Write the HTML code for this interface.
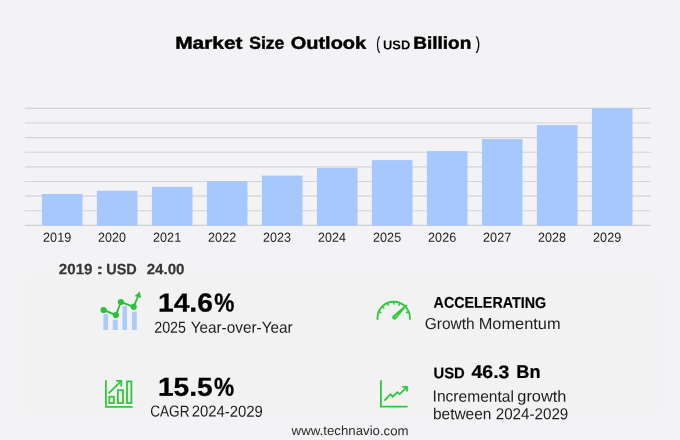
<!DOCTYPE html>
<html lang="en">
<head>
<meta charset="utf-8">
<title>Market Size Outlook</title>
<style>
html,body{margin:0;padding:0;}
body{width:680px;height:440px;overflow:hidden;background:#f3f3f6;position:relative;
  font-family:"Liberation Sans",sans-serif;color:#000;}
.t{position:absolute;white-space:nowrap;line-height:1;margin:0;padding:0;transform-origin:0 0;}
.b{font-weight:bold;}
.g-ti{top:34px;font-size:17.3px;color:#000;-webkit-text-stroke:0.45px #000}
.g-tp{top:35px;font-size:17.5px;color:#000;-webkit-text-stroke:0.2px #000}
.g-tu{top:39px;font-size:12.7px;color:#000;}
.g-yl{top:230px;font-size:13.2px;color:#222;}
.g-bv{top:261px;font-size:15px;color:#363636;-webkit-text-stroke:0.2px #363636}
.g-s1a{top:289px;font-size:26.0px;color:#000;-webkit-text-stroke:0.3px #000}
.g-s1b{top:319px;font-size:15.9px;color:#1e1e1e;}
.g-s2a{top:373px;font-size:26.0px;color:#000;-webkit-text-stroke:0.3px #000}
.g-s2b{top:403px;font-size:15.9px;color:#1e1e1e;}
.g-s3a{top:294px;font-size:15.5px;color:#000;-webkit-text-stroke:0.15px #000}
.g-s3b{top:316px;font-size:15.9px;color:#1e1e1e;}
.g-s4a{top:365px;font-size:15.4px;color:#000;-webkit-text-stroke:0.15px #000}
.g-s4b{top:363px;font-size:18.4px;color:#000;-webkit-text-stroke:0.2px #000}
.g-s4d{top:388px;font-size:15.9px;color:#1e1e1e;}
.g-s4e{top:406px;font-size:15.9px;color:#1e1e1e;}
.g-ft{top:424px;font-size:13px;color:#2a2a2a;}
.pc{display:inline-block;transform-origin:0 0;}
svg{position:absolute;overflow:visible;}
</style>
</head>
<body>
<svg id="panelsvg" style="left:0;top:0" width="680" height="440" viewBox="0 0 680 440"><rect x="26" y="275.8" width="633.5" height="136.4" fill="#f2f2f2"/></svg>

<!-- chart -->
<svg id="chart" style="left:0;top:0" width="680" height="240" viewBox="0 0 680 240">
  <g stroke="#d4d4d7" stroke-width="1.2">
    <line x1="24.8" y1="108.35" x2="650.9" y2="108.35"/>
    <line x1="24.8" y1="122.98" x2="650.9" y2="122.98"/>
    <line x1="24.8" y1="137.61" x2="650.9" y2="137.61"/>
    <line x1="24.8" y1="152.24" x2="650.9" y2="152.24"/>
    <line x1="24.8" y1="166.87" x2="650.9" y2="166.87"/>
    <line x1="24.8" y1="181.50" x2="650.9" y2="181.50"/>
    <line x1="24.8" y1="196.13" x2="650.9" y2="196.13"/>
    <line x1="24.8" y1="210.76" x2="650.9" y2="210.76"/>
    <line x1="24.8" y1="225.39" x2="650.9" y2="225.39" stroke="#d0d0d3"/>
  </g>
  <g fill="#a6c8ff">
    <rect x="41.9" y="194" width="40.6" height="31.7"/>
    <rect x="96.9" y="190.8" width="40.6" height="34.9"/>
    <rect x="151.9" y="186.9" width="40.6" height="38.8"/>
    <rect x="206.9" y="181.1" width="40.6" height="44.6"/>
    <rect x="261.9" y="175.6" width="40.6" height="50.1"/>
    <rect x="316.9" y="167.9" width="40.6" height="57.8"/>
    <rect x="371.9" y="160.1" width="40.6" height="65.6"/>
    <rect x="426.9" y="151.1" width="40.6" height="74.6"/>
    <rect x="481.9" y="139.1" width="40.6" height="86.6"/>
    <rect x="536.9" y="125.1" width="40.6" height="100.6"/>
    <rect x="591.9" y="108.2" width="40.6" height="117.5"/>
  </g>
</svg>

<!-- text -->
<span class="t b g-ti" style="left:175px;transform:matrix(1.2093,0.001,0,1,0.13,0.75)">Market</span>
<span class="t b g-ti" style="left:249px;transform:matrix(1.0166,0.001,0,1,0.23,0.75)">Size</span>
<span class="t b g-ti" style="left:290px;transform:matrix(1.1552,0.001,0,1,0.74,0.75)">Outlook</span>
<span class="t g-tp" style="left:376px;transform:matrix(0.6687,0.001,0,1,0.27,0.25)">(</span>
<span class="t b g-tu" style="left:382px;transform:matrix(1.0169,0.001,0,1,0.97,0.30)">USD</span>
<span class="t b g-ti" style="left:413px;transform:matrix(1.0992,0.001,0,1,0.28,0.75)">Billion</span>
<span class="t g-tp" style="left:475px;transform:matrix(0.7427,0.001,0,1,0.67,0.25)">)</span>
<span class="t g-yl" style="left:43px;transform:matrix(0.9562,0.001,0,1,0.11,0.83)">2019</span>
<span class="t g-yl" style="left:98px;transform:matrix(0.9523,0.001,0,1,0.11,0.83)">2020</span>
<span class="t g-yl" style="left:153px;transform:matrix(0.9554,0.001,0,1,0.11,0.83)">2021</span>
<span class="t g-yl" style="left:208px;transform:matrix(0.9559,0.001,0,1,0.11,0.83)">2022</span>
<span class="t g-yl" style="left:263px;transform:matrix(0.9551,0.001,0,1,0.11,0.83)">2023</span>
<span class="t g-yl" style="left:318px;transform:matrix(0.9462,0.001,0,1,0.12,0.83)">2024</span>
<span class="t g-yl" style="left:373px;transform:matrix(0.9554,0.001,0,1,0.11,0.83)">2025</span>
<span class="t g-yl" style="left:428px;transform:matrix(0.9563,0.001,0,1,0.11,0.83)">2026</span>
<span class="t g-yl" style="left:483px;transform:matrix(0.9559,0.001,0,1,0.11,0.83)">2027</span>
<span class="t g-yl" style="left:538px;transform:matrix(0.9546,0.001,0,1,0.11,0.83)">2028</span>
<span class="t g-yl" style="left:593px;transform:matrix(0.9562,0.001,0,1,0.11,0.83)">2029</span>
<span class="t b g-bv" style="left:58px;transform:matrix(1.0097,0.001,0,1,0.84,0.30)">2019</span>
<span class="t b g-bv" style="left:96px;transform:matrix(1.4141,0.001,0,1,0.13,0.30)">:</span>
<span class="t b g-bv" style="left:106px;transform:matrix(0.9671,0.001,0,1,0.16,0.30)">USD</span>
<span class="t b g-bv" style="left:146px;transform:matrix(1.0099,0.001,0,1,0.64,0.30)">24.00</span>
<span class="t b g-s1a" style="left:157px;transform:matrix(1.0855,0.001,0,1,0.96,0.45)">14.6<span class="pc" style="transform:translateX(0.83px) scaleX(0.8028)">%</span></span>
<span class="t g-s1b" style="left:154px;transform:matrix(0.8990,0.001,0,1,0.18,0.70)">2025</span>
<span class="t g-s1b" style="left:190px;transform:matrix(0.9645,0.001,0,1,0.65,0.70)">Year-over-Year</span>
<span class="t b g-s2a" style="left:157px;transform:matrix(1.0825,0.001,0,1,0.96,0.80)">15.5<span class="pc" style="transform:translateX(0.83px) scaleX(0.8050)">%</span></span>
<span class="t g-s2b" style="left:150px;transform:matrix(0.8567,0.001,0,1,0.18,0.60)">CAGR</span>
<span class="t g-s2b" style="left:191px;transform:matrix(0.9370,0.001,0,1,0.65,0.60)">2024-2029</span>
<span class="t b g-s3a" style="left:433px;transform:matrix(0.9234,0.001,0,1,0.57,0.80)">ACCELERATING</span>
<span class="t g-s3b" style="left:424px;transform:matrix(0.9751,0.001,0,1,0.69,0.00)">Growth</span>
<span class="t g-s3b" style="left:478px;transform:matrix(1.0309,0.001,0,1,0.65,0.00)">Momentum</span>
<span class="t b g-s4a" style="left:433px;transform:matrix(0.9636,0.001,0,1,0.45,0.35)">USD</span>
<span class="t b g-s4b" style="left:471px;transform:matrix(1.0609,0.001,0,1,0.50,0.10)">46.3</span>
<span class="t b g-s4b" style="left:516px;transform:matrix(0.9878,0.001,0,1,0.31,0.10)">Bn</span>
<span class="t g-s4d" style="left:432px;transform:matrix(0.9805,0.001,0,1,0.55,0.60)">Incremental</span>
<span class="t g-s4d" style="left:517px;transform:matrix(1.0317,0.001,0,1,0.27,0.60)">growth</span>
<span class="t g-s4e" style="left:432px;transform:matrix(0.9726,0.001,0,1,0.95,0.30)">between</span>
<span class="t g-s4e" style="left:495px;transform:matrix(0.9545,0.001,0,1,0.74,0.30)">2024-2029</span>
<span class="t g-ft" style="left:291px;transform:matrix(1.0193,0.001,0,1,0.56,0.04)">www.technavio.com</span>

<!-- icon 1: bars with trend line -->
<svg id="ic1" style="left:90px;top:285px" width="60" height="50" viewBox="0 0 60 50">
  <g fill="#adcbf8">
    <rect x="13.4" y="29" width="4.6" height="16"/>
    <rect x="22.8" y="34.6" width="5" height="10.4"/>
    <rect x="32.4" y="21" width="4.6" height="24"/>
    <rect x="42" y="26.6" width="4.8" height="18.4"/>
  </g>
  <polyline points="13.6,25 25.9,30.1 30.9,17 43.7,21.8 48.3,10.5" fill="none" stroke="#2fbf3f" stroke-width="1.9" stroke-linejoin="round"/>
  <g fill="#2fbf3f">
    <circle cx="13.6" cy="25" r="3.1"/>
    <circle cx="25.9" cy="30.1" r="3.1"/>
    <circle cx="30.9" cy="17" r="3.1"/>
    <circle cx="43.7" cy="21.8" r="3.1"/>
    <polygon points="49.7,6.6 44.7,10.9 51.2,13"/>
  </g>
</svg>

<!-- icon 2: bar chart with arrow -->
<svg id="ic2" style="left:90px;top:370px" width="60" height="50" viewBox="0 0 60 50" fill="none" stroke="#2dc93b" stroke-width="1.8">
  <polyline points="15.9,10.2 15.9,36.8 42.6,36.8"/>
  <rect x="19.3" y="26.8" width="4.6" height="6.2"/>
  <rect x="27.9" y="20.2" width="5.1" height="12.8"/>
  <rect x="37" y="11.4" width="4.4" height="21.6"/>
  <polyline points="18.6,23.4 31,11.1"/>
  <polyline points="26,10.9 31.3,10.9 31.3,16.6"/>
</svg>

<!-- icon 3: gauge -->
<svg id="ic3" style="left:365px;top:285px" width="60" height="50" viewBox="0 0 60 50" fill="none" stroke="#2dc93b">
  <path d="M12.50,34.7 L12.50,32.9 A16.2,16.2 0 0 1 44.90,32.9 L44.90,34.7" stroke-width="1.9"/>
  <g stroke-width="1.5">
    <line x1="13.73" y1="26.70" x2="16.41" y2="27.81"/>
    <line x1="17.24" y1="21.44" x2="19.30" y2="23.50"/>
    <line x1="22.50" y1="17.93" x2="23.61" y2="20.61"/>
    <line x1="28.70" y1="16.70" x2="28.70" y2="19.60"/>
    <line x1="34.90" y1="17.93" x2="33.79" y2="20.61"/>
    <line x1="43.67" y1="26.70" x2="40.99" y2="27.81"/>
  </g>
  <path d="M41.6,20.1 L30.50,33.50 A1.55,1.55 0 0 1 28.30,31.30 Z" stroke-width="1.3" fill="#2dc93b" stroke-linejoin="round"/>
  <line x1="29.7" y1="32.2" x2="32.6" y2="29.3" stroke="#c9efcd" stroke-width="0.6" stroke-linecap="round"/>
</svg>

<!-- icon 4: line chart -->
<svg id="ic4" style="left:365px;top:370px" width="60" height="50" viewBox="0 0 60 50" fill="none" stroke="#2dc93b" stroke-width="1.8">
  <polyline points="15.9,10.2 15.9,36.6 42.6,36.6"/>
  <polyline points="19.3,30.7 25.6,24.4 27.8,26.7 32.4,22.2 34.7,24.1 42,16.8"/>
  <polyline points="37.3,16.8 42,16.8 42,21.6"/>
</svg>

</body>
</html>
